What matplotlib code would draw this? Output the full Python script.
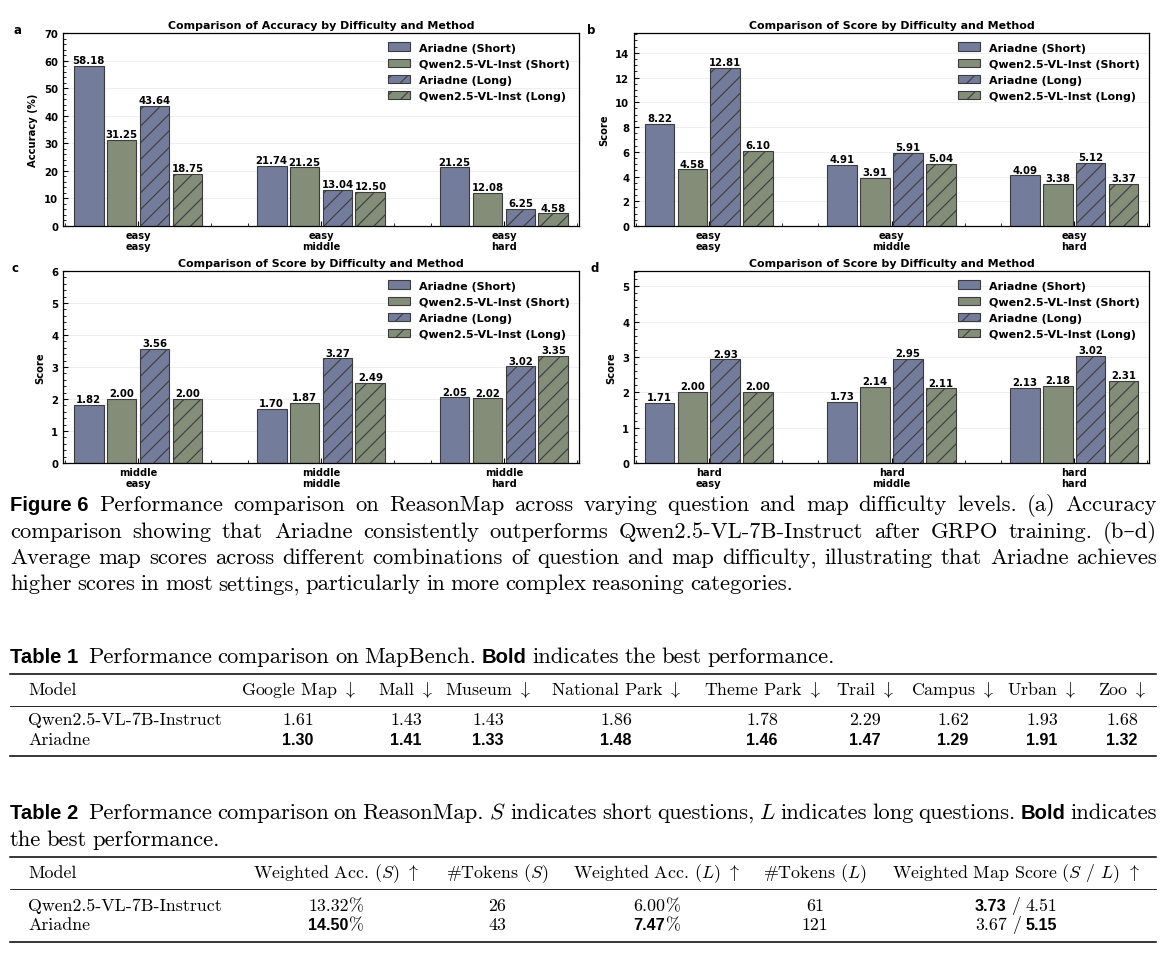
import numpy as np
import matplotlib
matplotlib.use('Agg')
import matplotlib.pyplot as plt
from matplotlib.ticker import AutoMinorLocator, MultipleLocator
from matplotlib.lines import Line2D

plt.rcParams['mathtext.fontset'] = 'cm'
plt.rcParams['hatch.linewidth'] = 0.8
plt.rcParams['font.family'] = ['DejaVu Sans']

# ---------------- data ----------------
methods = ['Ariadne (Short)', 'Qwen2.5-VL-Inst (Short)', 'Ariadne (Long)', 'Qwen2.5-VL-Inst (Long)']

cats_a = ['easy\neasy', 'easy\nmiddle', 'easy\nhard']
a_ariadne_short = [58.18, 21.74, 21.25]
a_qwen_short = [31.25, 21.25, 12.08]
a_ariadne_long = [43.64, 13.04, 6.25]
a_qwen_long = [18.75, 12.50, 4.58]

cats_b = ['easy\neasy', 'easy\nmiddle', 'easy\nhard']
b_ariadne_short = [8.22, 4.91, 4.09]
b_qwen_short = [4.58, 3.91, 3.38]
b_ariadne_long = [12.81, 5.91, 5.12]
b_qwen_long = [6.10, 5.04, 3.37]

cats_c = ['middle\neasy', 'middle\nmiddle', 'middle\nhard']
c_ariadne_short = [1.82, 1.70, 2.05]
c_qwen_short = [2.00, 1.87, 2.02]
c_ariadne_long = [3.56, 3.27, 3.02]
c_qwen_long = [2.00, 2.49, 3.35]

cats_d = ['hard\neasy', 'hard\nmiddle', 'hard\nhard']
d_ariadne_short = [1.71, 1.73, 2.13]
d_qwen_short = [2.00, 2.14, 2.18]
d_ariadne_long = [2.93, 2.95, 3.02]
d_qwen_long = [2.00, 2.11, 2.31]

t1_models = ['Qwen2.5-VL-7B-Instruct', 'Ariadne']
t1_cols = ['Google Map', 'Mall', 'Museum', 'National Park', 'Theme Park', 'Trail', 'Campus', 'Urban', 'Zoo']
t1_qwen = [1.61, 1.43, 1.43, 1.86, 1.78, 2.29, 1.62, 1.93, 1.68]
t1_ariadne = [1.30, 1.41, 1.33, 1.48, 1.46, 1.47, 1.29, 1.91, 1.32]

t2_models = ['Qwen2.5-VL-7B-Instruct', 'Ariadne']
t2_acc_s = [13.32, 14.50]
t2_tok_s = [26, 43]
t2_acc_l = [6.00, 7.47]
t2_tok_l = [61, 121]
t2_map_s = [3.73, 3.67]
t2_map_l = [4.51, 5.15]

# ---------------- figure ----------------
W, H = 1170, 962
fig = plt.figure(figsize=(W / 100, H / 100), dpi=100)
fig.patch.set_facecolor('white')
R = fig.canvas.get_renderer()

col_ar = '#747c9b'
col_qw = '#838d78'
colors = [col_ar, col_qw, col_ar, col_qw]
hatches = ['', '', '//', '//']


def px_axes(l, t, r, b):
    return fig.add_axes([l / W, 1 - b / H, (r - l) / W, (b - t) / H])


def panel(ax, cats, series, ylabel, ylim, title):
    x = np.arange(len(cats))
    slot, bw = 0.18, 0.163
    for i, vals in enumerate(series):
        bars = ax.bar(x + (i - 1.5) * slot, vals, bw, color=colors[i],
                      edgecolor='#3c3c3c', linewidth=0.8, hatch=hatches[i],
                      label=methods[i], zorder=2)
        ax.bar_label(bars, labels=[f'{v:.2f}' for v in vals], padding=0.6,
                     fontsize=7.3, fontweight='bold')
    ax.set_xlim(-0.41, 2.41)
    ax.set_ylim(*ylim)
    ax.set_xticks(x)
    ax.set_xticklabels(cats, fontsize=7.1, fontweight='bold', linespacing=1.1)
    ax.xaxis.set_minor_locator(AutoMinorLocator(5))
    ax.yaxis.set_minor_locator(AutoMinorLocator())
    ax.tick_params(axis='both', which='both', direction='in', top=False, right=False)
    ax.tick_params(axis='both', which='major', length=3.5, width=0.8)
    ax.tick_params(axis='both', which='minor', length=2, width=0.6)
    ax.tick_params(axis='x', which='major', pad=3.2)
    ax.tick_params(axis='y', which='major', pad=3.5, labelsize=7.3)
    ax.yaxis.grid(True, color='#ececec', linewidth=0.6, zorder=0)
    ax.set_axisbelow(True)
    for s in ax.spines.values():
        s.set_linewidth(0.9)
    ax.set_ylabel(ylabel, fontsize=7.2, fontweight='bold', labelpad=4)
    ax.set_title(title, fontsize=7.9, fontweight='bold', pad=3.5)
    ax.legend(loc='upper right', frameon=False, prop=dict(weight='bold', size=8.0),
              labelspacing=0.52, handlelength=2.0, handleheight=0.85,
              handletextpad=0.75, borderaxespad=0.45)


axa = px_axes(63, 34, 579, 227)
panel(axa, cats_a, [a_ariadne_short, a_qwen_short, a_ariadne_long, a_qwen_long],
      'Accuracy (%)', (0, 70), 'Comparison of Accuracy by Difficulty and Method')
axa.yaxis.set_major_locator(MultipleLocator(10))
axa.yaxis.set_minor_locator(AutoMinorLocator(5))

axb = px_axes(634, 34, 1149, 227)
panel(axb, cats_b, [b_ariadne_short, b_qwen_short, b_ariadne_long, b_qwen_long],
      'Score', (0, 15.6), 'Comparison of Score by Difficulty and Method')
axb.yaxis.set_major_locator(MultipleLocator(2))

axc = px_axes(63, 272, 579, 464)
panel(axc, cats_c, [c_ariadne_short, c_qwen_short, c_ariadne_long, c_qwen_long],
      'Score', (0, 6.0), 'Comparison of Score by Difficulty and Method')
axc.yaxis.set_major_locator(MultipleLocator(1))

axd = px_axes(634, 272, 1149, 464)
panel(axd, cats_d, [d_ariadne_short, d_qwen_short, d_ariadne_long, d_qwen_long],
      'Score', (0, 5.43), 'Comparison of Score by Difficulty and Method')
axd.yaxis.set_major_locator(MultipleLocator(1))

for ax in (axa, axb, axc, axd):
    for lab in ax.get_yticklabels():
        lab.set_fontweight('bold')

for letter, (px, py) in zip('abcd', [(17, 31), (591, 31), (15, 268), (595, 268)]):
    fig.text(px / W, 1 - py / H, letter, fontsize=8.5, fontweight='bold',
             ha='center', va='center')

# ---------------- text helpers ----------------
SERIF_FAM = ['cmr10', 'DejaVu Serif']
SANS_FAM = ['Liberation Sans', 'DejaVu Sans']
CAP = dict(family=SERIF_FAM, fontsize=16.3)
CAPB = dict(family=SANS_FAM, fontsize=14.6, fontweight='bold')
TAB = dict(family=SERIF_FAM, fontsize=12.9)
TABB = dict(family=SANS_FAM, fontsize=11.6, fontweight='bold')


def mk(items):
    ts = [fig.text(0, 0, s, va='baseline', ha='left', **st) for s, st in items]
    ws = [t.get_window_extent(R).width for t in ts]
    return ts, ws


def runs(items, x, y, ha='center', gap=0.0):
    ts, ws = mk(items)
    total = sum(ws) + gap * (len(ws) - 1)
    x0 = x - total / 2 if ha == 'center' else x
    for t, w in zip(ts, ws):
        t.set_position((x0 / W, 1 - y / H))
        x0 += w + gap


def justify(items, x0, x1, y, first_gap=None, gap=None):
    ts, ws = mk(items)
    n = len(ts)
    if gap is None:
        if first_gap is not None:
            g = (x1 - x0 - sum(ws) - first_gap) / (n - 2)
        else:
            g = (x1 - x0 - sum(ws)) / (n - 1)
    else:
        g = gap
    x = x0
    for i, (t, w) in enumerate(zip(ts, ws)):
        t.set_position((x / W, 1 - y / H))
        x += w + (first_gap if (i == 0 and first_gap is not None) else g)


def words(s, st=CAP):
    return [(w, st) for w in s.split(' ')]


# ---------------- figure caption ----------------
L1 = [('Figure 6', CAPB)] + words('Performance comparison on ReasonMap across varying question and map difficulty levels. (a) Accuracy')
L2 = words('comparison showing that Ariadne consistently outperforms Qwen2.5-VL-7B-Instruct after GRPO training. (b–d)')
L3 = words('Average map scores across different combinations of question and map difficulty, illustrating that Ariadne achieves')
L4 = words('higher scores in most settings, particularly in more complex reasoning categories.')
justify(L1, 10, 1157, 511, first_gap=11)
justify(L2, 10, 1157, 537.5)
justify(L3, 10, 1157, 564)
justify(L4, 10, 1157, 590.5, gap=5.6)

# ---------------- Table 1 ----------------
T1cap = [('Table 1', CAPB)] + words('Performance comparison on MapBench.') + [('Bold', CAPB)] + \
    words('indicates the best performance.')
justify(T1cap, 10, None, 663, first_gap=10, gap=5.6)


def hline(y, lw, x0=10, x1=1156):
    fig.add_artist(Line2D([x0 / W, x1 / W], [1 - y / H, 1 - y / H], color='black',
                          linewidth=lw, transform=fig.transFigure))


hline(675, 1.1)
hline(707, 0.6)
hline(757, 1.1)

t1_x = [298, 406, 488, 616, 762, 865, 953, 1042, 1122]
runs([('Model', TAB)], 28, 695, ha='left')
for xc, c in zip(t1_x, t1_cols):
    runs([(c + r' $\downarrow$', TAB)], xc, 695)
runs([(t1_models[0], TAB)], 28, 725, ha='left')
runs([(t1_models[1], TAB)], 28, 745, ha='left')
for xc, q, a in zip(t1_x, t1_qwen, t1_ariadne):
    runs([(f'{q:.2f}', TABB if q < a else TAB)], xc, 725)
    runs([(f'{a:.2f}', TABB if a <= q else TAB)], xc, 745)

# ---------------- Table 2 ----------------
T2a = [('Table 2', CAPB)] + words('Performance comparison on ReasonMap.') + [('$S$', CAP)] + \
    words('indicates short questions,') + [('$L$', CAP)] + words('indicates long questions.') + \
    [('Bold', CAPB), ('indicates', CAP)]
justify(T2a, 10, 1157, 819, first_gap=10)
justify(words('the best performance.'), 10, None, 846, gap=5.6)

hline(858, 1.1)
hline(890, 0.6)
hline(943, 1.1)

t2_x = [336, 497, 657, 815, 1016]
t2_hdr = [r'Weighted Acc. ($S$) $\uparrow$', r'#Tokens ($S$)', r'Weighted Acc. ($L$) $\uparrow$',
          r'#Tokens ($L$)', r'Weighted Map Score ($S$ / $L$) $\uparrow$']
runs([('Model', TAB)], 28, 878, ha='left')
for xc, h in zip(t2_x, t2_hdr):
    runs([(h, TAB)], xc, 878)
for i, yb in enumerate([911, 930]):
    runs([(t2_models[i], TAB)], 28, yb, ha='left')
    best_as = t2_acc_s[i] == max(t2_acc_s)
    best_al = t2_acc_l[i] == max(t2_acc_l)
    runs([(f'{t2_acc_s[i]:.2f}', TABB if best_as else TAB), ('%', TAB)], t2_x[0], yb, gap=0.5)
    runs([(f'{t2_tok_s[i]}', TAB)], t2_x[1], yb)
    runs([(f'{t2_acc_l[i]:.2f}', TABB if best_al else TAB), ('%', TAB)], t2_x[2], yb, gap=0.5)
    runs([(f'{t2_tok_l[i]}', TAB)], t2_x[3], yb)
    bs = t2_map_s[i] == max(t2_map_s)
    bl = t2_map_l[i] == max(t2_map_l)
    runs([(f'{t2_map_s[i]:.2f}', TABB if bs else TAB), ('/', TAB),
          (f'{t2_map_l[i]:.2f}', TABB if bl else TAB)], t2_x[4], yb, gap=5)

fig.savefig('out.png', dpi=100, facecolor='white')
